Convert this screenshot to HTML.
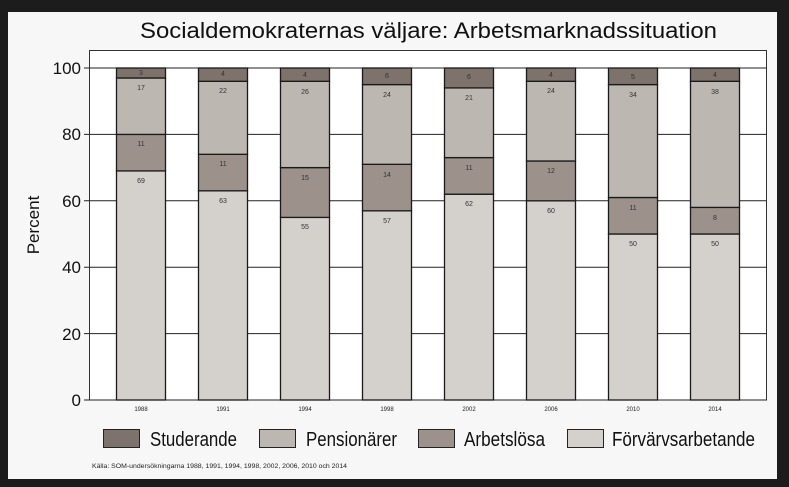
<!DOCTYPE html>
<html><head><style>
html,body{margin:0;padding:0;background:#1c1c1c;width:789px;height:487px;overflow:hidden}
svg{display:block}
text{font-family:"Liberation Sans",sans-serif}
.a{fill:#d4d0cc}.b{fill:#9c918b}.c{fill:#bdb7b2}.d{fill:#7d726c}
.bar rect{stroke:#1a1a1a;stroke-width:1.3}
.bar text{font-size:7px;fill:#333;text-anchor:middle}
</style></head><body>
<svg width="789" height="487" xmlns="http://www.w3.org/2000/svg">
<rect x="0" y="0" width="789" height="487" fill="#1c1c1c"/>
<rect x="8" y="12" width="769" height="467" fill="#f7f7f7"/>
<text x="140" y="38" font-size="22" textLength="577" lengthAdjust="spacingAndGlyphs" fill="#111">Socialdemokraternas väljare: Arbetsmarknadssituation</text>
<rect x="89.5" y="50.5" width="677" height="349.5" fill="#fff" stroke="#333" stroke-width="1"/>
<g stroke="#222" stroke-width="1">
<line x1="84" x2="767" y1="68" y2="68"/>
<line x1="84" x2="767" y1="134.4" y2="134.4"/>
<line x1="84" x2="767" y1="200.8" y2="200.8"/>
<line x1="84" x2="767" y1="267.2" y2="267.2"/>
<line x1="84" x2="767" y1="333.6" y2="333.6"/>
<line x1="84" x2="767" y1="400" y2="400"/>
</g>
<g font-size="17" text-anchor="end" fill="#111">
<text x="81" y="74">100</text><text x="81" y="140">80</text><text x="81" y="207">60</text>
<text x="81" y="273">40</text><text x="81" y="340">20</text><text x="81" y="406">0</text>
</g>
<text transform="translate(39,225) rotate(-90)" font-size="17" text-anchor="middle" fill="#111">Percent</text>

<g class="bar" transform="translate(116.5,0)">
<rect class="a" x="0" y="170.9" width="49" height="229.1"/><rect class="b" x="0" y="134.4" width="49" height="36.5"/><rect class="c" x="0" y="78" width="49" height="56.4"/><rect class="d" x="0" y="68" width="49" height="10"/>
<text x="24.5" y="183">69</text><text x="24.5" y="146">11</text><text x="24.5" y="90">17</text><text x="24.5" y="75">3</text></g>
<g class="bar" transform="translate(198.5,0)">
<rect class="a" x="0" y="190.8" width="49" height="209.2"/><rect class="b" x="0" y="154.3" width="49" height="36.5"/><rect class="c" x="0" y="81.3" width="49" height="73"/><rect class="d" x="0" y="68" width="49" height="13.3"/>
<text x="24.5" y="203">63</text><text x="24.5" y="166">11</text><text x="24.5" y="93">22</text><text x="24.5" y="76">4</text></g>
<g class="bar" transform="translate(280.5,0)">
<rect class="a" x="0" y="217.4" width="49" height="182.6"/><rect class="b" x="0" y="167.6" width="49" height="49.8"/><rect class="c" x="0" y="81.3" width="49" height="86.3"/><rect class="d" x="0" y="68" width="49" height="13.3"/>
<text x="24.5" y="229">55</text><text x="24.5" y="180">15</text><text x="24.5" y="94">26</text><text x="24.5" y="77">4</text></g>
<g class="bar" transform="translate(362.5,0)">
<rect class="a" x="0" y="210.8" width="49" height="189.2"/><rect class="b" x="0" y="164.3" width="49" height="46.5"/><rect class="c" x="0" y="84.6" width="49" height="79.7"/><rect class="d" x="0" y="68" width="49" height="16.6"/>
<text x="24.5" y="223">57</text><text x="24.5" y="177">14</text><text x="24.5" y="97">24</text><text x="24.5" y="78">6</text></g>
<g class="bar" transform="translate(444.5,0)">
<rect class="a" x="0" y="194.2" width="49" height="205.8"/><rect class="b" x="0" y="157.6" width="49" height="36.6"/><rect class="c" x="0" y="87.9" width="49" height="69.7"/><rect class="d" x="0" y="68" width="49" height="19.9"/>
<text x="24.5" y="206">62</text><text x="24.5" y="170">11</text><text x="24.5" y="100">21</text><text x="24.5" y="79">6</text></g>
<g class="bar" transform="translate(526.5,0)">
<rect class="a" x="0" y="200.8" width="49" height="199.2"/><rect class="b" x="0" y="161" width="49" height="39.8"/><rect class="c" x="0" y="81.3" width="49" height="79.7"/><rect class="d" x="0" y="68" width="49" height="13.3"/>
<text x="24.5" y="213">60</text><text x="24.5" y="173">12</text><text x="24.5" y="93">24</text><text x="24.5" y="77">4</text></g>
<g class="bar" transform="translate(608.5,0)">
<rect class="a" x="0" y="234" width="49" height="166"/><rect class="b" x="0" y="197.5" width="49" height="36.5"/><rect class="c" x="0" y="84.6" width="49" height="112.9"/><rect class="d" x="0" y="68" width="49" height="16.6"/>
<text x="24.5" y="246">50</text><text x="24.5" y="210">11</text><text x="24.5" y="97">34</text><text x="24.5" y="79">5</text></g>
<g class="bar" transform="translate(690.5,0)">
<rect class="a" x="0" y="234" width="49" height="166"/><rect class="b" x="0" y="207.4" width="49" height="26.6"/><rect class="c" x="0" y="81.3" width="49" height="126.1"/><rect class="d" x="0" y="68" width="49" height="13.3"/>
<text x="24.5" y="246">50</text><text x="24.5" y="220">8</text><text x="24.5" y="94">38</text><text x="24.5" y="77">4</text></g>

<g font-size="6" text-anchor="middle" fill="#222">
<text x="141" y="411">1988</text><text x="223" y="411">1991</text><text x="305" y="411">1994</text><text x="387" y="411">1998</text>
<text x="469" y="411">2002</text><text x="551" y="411">2006</text><text x="633" y="411">2010</text><text x="715" y="411">2014</text>
</g>
<g font-size="20" fill="#111">
<rect x="103.5" y="429.5" width="36" height="18" fill="#7d726c" stroke="#222"/><text x="150" y="446" textLength="87" lengthAdjust="spacingAndGlyphs">Studerande</text>
<rect x="259.5" y="429.5" width="36" height="18" fill="#bdb7b2" stroke="#222"/><text x="306" y="446" textLength="91" lengthAdjust="spacingAndGlyphs">Pensionärer</text>
<rect x="418.5" y="429.5" width="36" height="18" fill="#9c918b" stroke="#222"/><text x="464" y="446" textLength="81" lengthAdjust="spacingAndGlyphs">Arbetslösa</text>
<rect x="567.5" y="429.5" width="36" height="18" fill="#d4d0cc" stroke="#222"/><text x="612" y="446" textLength="143" lengthAdjust="spacingAndGlyphs">Förvärvsarbetande</text>
</g>
<text x="92" y="468" font-size="6" fill="#222" textLength="255" lengthAdjust="spacingAndGlyphs">Källa: SOM-undersökningarna 1988, 1991, 1994, 1998, 2002, 2006, 2010 och 2014</text>
</svg>
</body></html>
